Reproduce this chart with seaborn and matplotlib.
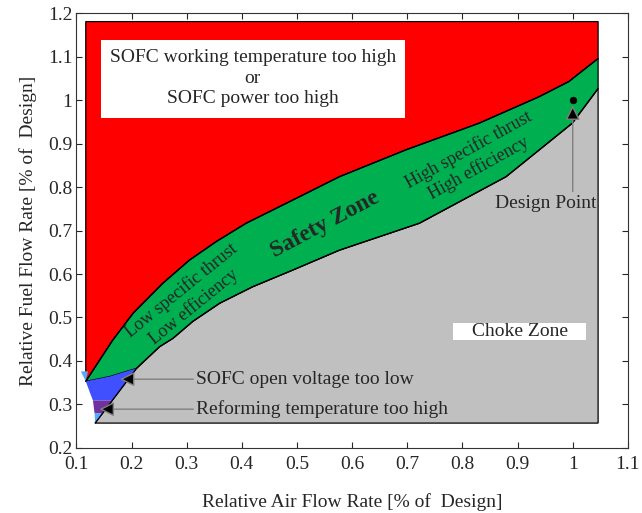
import numpy as np
import pandas as pd
import matplotlib
matplotlib.use("Agg")
import matplotlib.pyplot as plt
from matplotlib.patches import Rectangle
from matplotlib.ticker import FuncFormatter
import seaborn as sns

# limites da região de operação
upper_x = [0.117, 0.166, 0.203, 0.257, 0.305, 0.354, 0.408, 0.492, 0.577, 0.698, 0.830, 0.939, 0.993, 1.046]
upper_y = [0.353, 0.448, 0.510, 0.579, 0.632, 0.675, 0.717, 0.770, 0.824, 0.886, 0.947, 1.008, 1.043, 1.096]
lower_x = [0.209, 0.251, 0.275, 0.311, 0.360, 0.420, 0.492, 0.577, 0.722, 0.879, 0.999, 1.046]
lower_y = [0.383, 0.433, 0.452, 0.491, 0.533, 0.571, 0.609, 0.655, 0.717, 0.824, 0.947, 1.027]
x_min, x_max = 0.117, 1.046
y_top, y_bottom = 1.181, 0.257
choke_x0 = 0.134

voltage_x = [0.117, 0.160, 0.209, 0.165, 0.130, 0.124]
voltage_y = [0.353, 0.364, 0.383, 0.309, 0.309, 0.329]
reform_x = [0.130, 0.165, 0.147, 0.133]
reform_y = [0.309, 0.309, 0.279, 0.279]
tail_x = [0.133, 0.147, 0.134]
tail_y = [0.279, 0.279, 0.257]
tick_x = [0.108, 0.121, 0.117]
tick_y = [0.376, 0.376, 0.353]

design_x, design_y = 1.0, 1.0

x_ticks = [0.1, 0.2, 0.3, 0.4, 0.5, 0.6, 0.7, 0.8, 0.9, 1.0, 1.1]
y_ticks = [0.2, 0.3, 0.4, 0.5, 0.6, 0.7, 0.8, 0.9, 1.0, 1.1, 1.2]

sns.set_style("ticks")
plt.rcParams["font.family"] = ["Liberation Serif", "DejaVu Serif"]

fig = plt.figure(figsize=(6.42, 5.13), dpi=100)
ax = fig.add_axes([0.119, 0.127, 0.859, 0.847])

# zona de choke (cinza)
gx = [choke_x0, x_max, x_max] + lower_x[::-1]
gy = [y_bottom, y_bottom, lower_y[-1]] + lower_y[::-1]
ax.fill(gx, gy, facecolor="#c0c0c0", edgecolor="black", lw=0.9)

# zona vermelha
rx = [x_min, x_max, x_max] + upper_x[::-1]
ry = [y_top, y_top, upper_y[-1]] + upper_y[::-1]
ax.fill(rx, ry, facecolor="#ff0000", edgecolor="black", lw=0.9)

# zona de segurança (verde)
sx = upper_x + [x_max] + lower_x[::-1] + voltage_x[1:2]
sy = upper_y + [lower_y[-1]] + lower_y[::-1] + voltage_y[1:2]
ax.fill(sx, sy, facecolor="#00b050", edgecolor="black", lw=0.9)

ax.fill(voltage_x, voltage_y, facecolor="#4050ff", edgecolor="none")
ax.fill(reform_x, reform_y, facecolor="#7030a0", edgecolor="none")
ax.fill(tail_x, tail_y, facecolor="#55aaff", edgecolor="none")
ax.fill(tick_x, tick_y, facecolor="#55aaff", edgecolor="none")

bnd = pd.DataFrame({"x": upper_x, "y": upper_y})
sns.lineplot(data=bnd, x="x", y="y", color="black", lw=0.9, sort=False, ax=ax)
bnd2 = pd.DataFrame({"x": lower_x, "y": lower_y})
sns.lineplot(data=bnd2, x="x", y="y", color="black", lw=0.9, sort=False, ax=ax)
ax.plot([choke_x0, lower_x[0]], [y_bottom, lower_y[0]], color="black", lw=0.9)

# ponto de projeto
sns.scatterplot(x=[design_x], y=[design_y], color="black", edgecolor="black",
                s=24, ax=ax, zorder=5)

arrow_kw = dict(arrowstyle="-|>", ec="#808080", fc="black", lw=1.0,
                mutation_scale=22, shrinkA=0, shrinkB=0)
ax.annotate("", xy=(design_x, 0.988), xytext=(design_x, 0.79), arrowprops=arrow_kw)
ax.text(0.951, 0.763, "Design Point", ha="center", va="center", fontsize=14)

ax.annotate("", xy=(0.179, 0.358), xytext=(0.312, 0.358), arrowprops=arrow_kw)
ax.text(0.316, 0.358, "SOFC open voltage too low", ha="left", va="center", fontsize=14)
ax.annotate("", xy=(0.142, 0.289), xytext=(0.312, 0.289), arrowprops=arrow_kw)
ax.text(0.316, 0.289, "Reforming temperature too high", ha="left", va="center", fontsize=14)

# caixas brancas
ax.add_patch(Rectangle((0.144, 0.959), 0.551, 0.180, fc="white", ec="none", zorder=3))
ax.text(0.42, 1.051, "SOFC working temperature too high\nor\nSOFC power too high",
        ha="center", va="center", fontsize=14, linespacing=1.25, zorder=4)
ax.add_patch(Rectangle((0.783, 0.448), 0.241, 0.040, fc="white", ec="none", zorder=3))
ax.text(0.905, 0.468, "Choke Zone", ha="center", va="center", fontsize=14, zorder=4)

ax.text(0.550, 0.715, "Safety Zone", ha="center", va="center", fontsize=17,
        fontweight="bold", rotation=28)
ax.text(0.290, 0.563, "Low specific thrust", ha="center", va="center", fontsize=13, rotation=39)
ax.text(0.313, 0.525, "Low efficiency", ha="center", va="center", fontsize=13, rotation=39)
ax.text(0.812, 0.886, "High specific thrust", ha="center", va="center", fontsize=13, rotation=29)
ax.text(0.830, 0.843, "High efficiency", ha="center", va="center", fontsize=13, rotation=29)

ax.set_xlim(0.1, 1.1)
ax.set_ylim(0.2, 1.2)
ax.set_xticks(x_ticks)
ax.set_yticks(y_ticks)
fmt = FuncFormatter(lambda v, p: f"{v:g}")
ax.xaxis.set_major_formatter(fmt)
ax.yaxis.set_major_formatter(fmt)
ax.tick_params(direction="in", top=True, right=True, labelsize=14, length=4, width=0.8)
ax.tick_params(axis="x", pad=6)
ax.tick_params(axis="y", pad=3)
for s in ax.spines.values():
    s.set_linewidth(0.8)
    s.set_color("#333333")

ax.set_xlabel("Relative Air Flow Rate [% of  Design]", fontsize=14, labelpad=14)
ax.set_ylabel("Relative Fuel Flow Rate [% of  Design]", fontsize=14, labelpad=8)

fig.savefig("out.png", dpi=100)
plt.close(fig)
